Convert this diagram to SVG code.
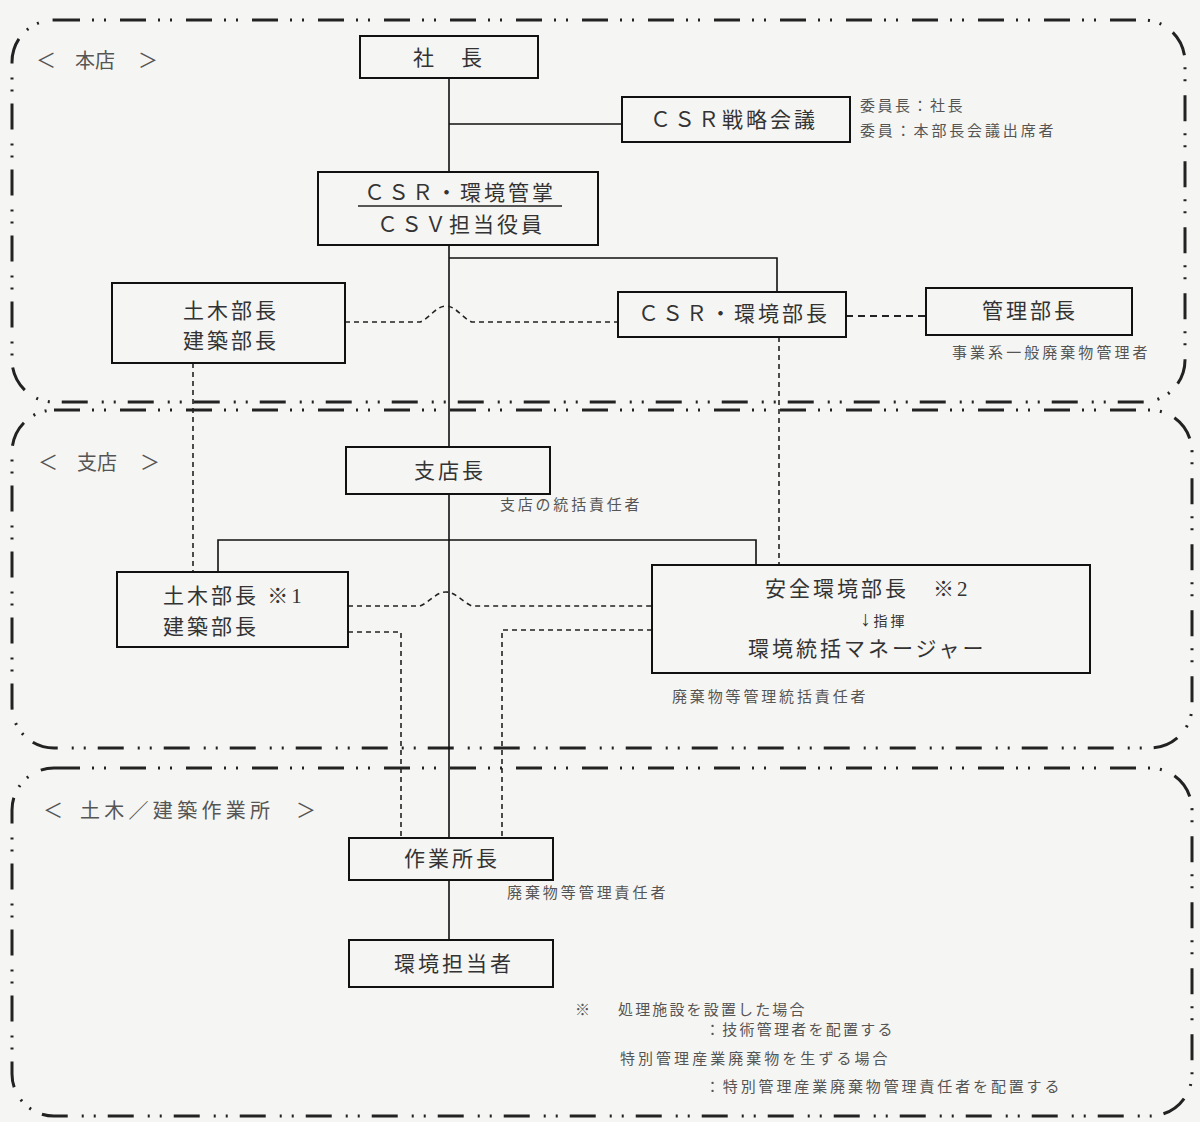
<svg xmlns="http://www.w3.org/2000/svg" width="1200" height="1122" viewBox="0 0 1200 1122">
<style>
.region{fill:none;stroke:#222;stroke-width:3;stroke-dasharray:26 12 2 10 2 14}
.box{fill:none;stroke:#111;stroke-width:2}
.solid{fill:none;stroke:#111;stroke-width:1.6}
.dash{fill:none;stroke:#222;stroke-width:1.6;stroke-dasharray:5 4}
.dash2{fill:none;stroke:#222;stroke-width:2;stroke-dasharray:7 5}
.t{font-family:"Liberation Serif","Noto Sans CJK JP",serif;font-size:21px;fill:#333;letter-spacing:3px}
.m{text-anchor:middle}
.s{font-family:"Liberation Serif","Noto Sans CJK JP",serif;font-size:15px;fill:#555;letter-spacing:2.5px}
.lab{font-family:"Noto Sans CJK JP",sans-serif;font-size:20px;fill:#555}
</style>
<rect width="1200" height="1122" fill="#f5f5f3"/>
<g id="regions">
<rect class="region" x="12" y="20" width="1173" height="382" rx="42"/>
<rect class="region" x="12" y="410" width="1180" height="338" rx="42"/>
<rect class="region" x="12" y="768" width="1180" height="348" rx="42"/>
<text class="lab" y="68"><tspan x="36">＜</tspan><tspan x="75">本店</tspan><tspan x="138">＞</tspan></text>
<text class="lab" y="470"><tspan x="38">＜</tspan><tspan x="77">支店</tspan><tspan x="140">＞</tspan></text>
<text class="lab" y="818"><tspan x="43">＜</tspan><tspan x="80" textLength="190" lengthAdjust="spacing">土木／建築作業所</tspan><tspan x="296">＞</tspan></text>
</g>
<g id="connectors">
<path class="solid" d="M449,78 V172 M449,124 H622 M449,245 V447 M449,258 H777 V292 M449,494 V838 M449,880 V940"/>
<path class="solid" d="M218,572 V540 H756 V565"/>
<path class="dash" d="M345,322 H420 C430,318 436,306 446,306 C456,306 462,318 472,322 H618"/>
<path class="dash" d="M348,606 H420 C430,602 436,592 446,592 C456,592 462,602 472,606 H652"/>
<path class="dash2" d="M846,316 H926"/>
<path class="dash" d="M193,363 V572 M779,337 V565"/>
<path class="dash" d="M348,632 H401 V838 M652,630 H502 V838"/>
</g>
<g id="n-president">
<rect class="box" x="360" y="36" width="178" height="42"/>
<text class="t m" x="449" y="65">社　長</text>
</g>
<g id="n-csr-council">
<rect class="box" x="622" y="97" width="228" height="45"/>
<text class="t m" x="734" y="127">ＣＳＲ戦略会議</text>
<text class="s" x="860" y="111">委員長：社長</text>
<text class="s" x="860" y="136" textLength="196" lengthAdjust="spacing">委員：本部長会議出席者</text>
</g>
<g id="n-csr-officer">
<rect class="box" x="318" y="172" width="280" height="73"/>
<text class="t m" x="460" y="200">ＣＳＲ・環境管掌</text>
<line x1="358" y1="206" x2="562" y2="206" stroke="#222" stroke-width="1.5"/>
<text class="t m" x="461" y="232">ＣＳＶ担当役員</text>
</g>
<g id="n-hq-civil">
<rect class="box" x="112" y="283" width="233" height="80"/>
<text class="t m" x="231" y="318">土木部長</text>
<text class="t m" x="231" y="348">建築部長</text>
</g>
<g id="n-hq-csr-env">
<rect class="box" x="618" y="292" width="228" height="45"/>
<text class="t m" x="734" y="321">ＣＳＲ・環境部長</text>
</g>
<g id="n-admin">
<rect class="box" x="926" y="288" width="206" height="47"/>
<text class="t m" x="1030" y="318">管理部長</text>
<text class="s" x="952" y="358" textLength="198" lengthAdjust="spacing">事業系一般廃棄物管理者</text>
</g>
<g id="n-branch">
<rect class="box" x="346" y="447" width="204" height="47"/>
<text class="t m" x="450" y="478">支店長</text>
<text class="s" x="500" y="510" textLength="142" lengthAdjust="spacing">支店の統括責任者</text>
</g>
<g id="n-br-civil">
<rect class="box" x="117" y="572" width="231" height="75"/>
<text class="t" x="163" y="603">土木部長 ※1</text>
<text class="t" x="163" y="634">建築部長</text>
</g>
<g id="n-br-safety">
<rect class="box" x="652" y="565" width="438" height="108"/>
<text class="t" x="765" y="596">安全環境部長　※2</text>
<text class="t" x="860" y="626">↓<tspan style="font-size:14px">指揮</tspan></text>
<text class="t" x="748" y="656">環境統括マネージャー</text>
<text class="s" x="672" y="702" textLength="196" lengthAdjust="spacing">廃棄物等管理統括責任者</text>
</g>
<g id="n-site">
<rect class="box" x="349" y="838" width="204" height="42"/>
<text class="t m" x="452" y="866">作業所長</text>
<text class="s" x="507" y="898" textLength="161" lengthAdjust="spacing">廃棄物等管理責任者</text>
</g>
<g id="n-staff">
<rect class="box" x="349" y="940" width="204" height="47"/>
<text class="t m" x="454" y="971">環境担当者</text>
</g>
<g id="notes">
<text class="s" x="575" y="1015">※</text>
<text class="s" x="618" y="1015" textLength="189" lengthAdjust="spacing">処理施設を設置した場合</text>
<text class="s" x="705" y="1035" textLength="190" lengthAdjust="spacing">：技術管理者を配置する</text>
<text class="s" x="620" y="1064" textLength="270" lengthAdjust="spacing">特別管理産業廃棄物を生ずる場合</text>
<text class="s" x="705" y="1092" textLength="357" lengthAdjust="spacing">：特別管理産業廃棄物管理責任者を配置する</text>
</g>
</svg>
